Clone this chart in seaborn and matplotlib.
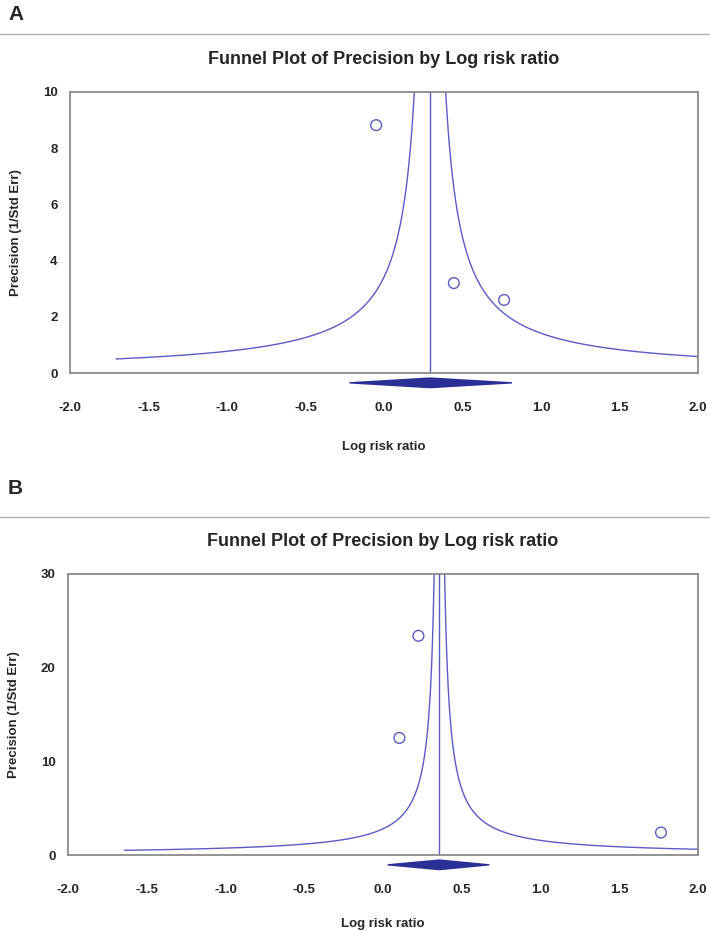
import numpy as np
import pandas as pd
import matplotlib
matplotlib.use("Agg")
import matplotlib.pyplot as plt
import matplotlib.transforms as mtransforms
from matplotlib.lines import Line2D
import seaborn as sns

# ---- data ----
panel_labels = ["A", "B"]
title = "Funnel Plot of Precision by Log risk ratio"
xlabel = "Log risk ratio"
ylabel = "Precision (1/Std Err)"

a_logrr = [-0.05, 0.445, 0.765]
a_precision = [8.82, 3.2, 2.6]
a_center = 0.293
a_ci = [-0.22, 0.815]
a_ymax = 10
a_yticks = [0, 2, 4, 6, 8, 10]

b_logrr = [0.225, 0.104, 1.765]
b_precision = [23.4, 12.5, 2.4]
b_center = 0.358
b_ci = [0.03, 0.675]
b_ymax = 30
b_yticks = [0, 10, 20, 30]

xticks = [-2.0, -1.5, -1.0, -0.5, 0.0, 0.5, 1.0, 1.5, 2.0]

sns.set_theme(style="white")
plt.rcParams["font.family"] = ["Liberation Sans", "DejaVu Sans"]

W, H = 710, 931
fig = plt.figure(figsize=(W / 100, H / 100), dpi=100)

LINE = "#5b5bc6"
DIAMOND = "#2a2f96"
SPINE = "#8a8a8a"

def px_axes(left, top, right, bottom):
    return fig.add_axes([left / W, 1 - bottom / H, (right - left) / W, (bottom - top) / H])

def draw_panel(ax, xs, ys, center, ci, ymax, yticks, xlabelpad):
    pts = pd.DataFrame({"x": xs, "y": ys})
    prec = np.geomspace(0.5, 2000, 800)
    left = pd.DataFrame({"x": center - 1.0 / prec, "y": prec})
    right = pd.DataFrame({"x": center + 1.0 / prec, "y": prec})
    sns.lineplot(data=left, x="x", y="y", sort=False, color=LINE, lw=1.0, ax=ax)
    sns.lineplot(data=right, x="x", y="y", sort=False, color=LINE, lw=1.0, ax=ax)
    ax.axvline(center, color=LINE, lw=1.0)
    sns.scatterplot(data=pts, x="x", y="y", marker="o", s=60, facecolors="none",
                    edgecolor=LINE, linewidth=1.0, ax=ax, zorder=5)
    ax.set_xlim(-2.0, 2.0)
    ax.set_ylim(0, ymax)
    # summary diamond below axis
    trans = mtransforms.blended_transform_factory(ax.transData, ax.transAxes)
    yc, hh = -0.035, 0.017
    dx = [ci[0], center, ci[1], center]
    dy = [yc, yc + hh, yc, yc - hh]
    ax.fill(dx, dy, color=DIAMOND, transform=trans, clip_on=False, zorder=6)
    ax.set_xticks(xticks)
    ax.set_xticklabels([f"{t:.1f}" for t in xticks])
    ax.set_yticks(yticks)
    ax.set_yticklabels([str(t) for t in yticks])
    ax.tick_params(axis="x", direction="inout", length=6, width=1.0, color="#555555",
                   pad=18, labelsize=9.5)
    ax.tick_params(axis="y", direction="out", length=3, width=1.0, color="#555555",
                   pad=6, labelsize=9.5)
    for lab in ax.get_xticklabels() + ax.get_yticklabels():
        lab.set_fontweight("bold")
    for sp in ax.spines.values():
        sp.set_visible(True)
        sp.set_color(SPINE)
        sp.set_linewidth(1.3)
    ax.set_xlabel(xlabel, fontsize=9.5, fontweight="bold", labelpad=xlabelpad)
    ax.set_ylabel(ylabel, fontsize=9.5, fontweight="bold", labelpad=15)
    ax.set_title(title, fontsize=13, fontweight="bold", pad=20)

axA = px_axes(70, 92, 698, 373)
draw_panel(axA, a_logrr, a_precision, a_center, a_ci, a_ymax, a_yticks, 19)
axB = px_axes(68, 574, 698, 855)
draw_panel(axB, b_logrr, b_precision, b_center, b_ci, b_ymax, b_yticks, 16)

# panel letters and separators
fig.text(8 / W, 1 - 14 / H, panel_labels[0], fontsize=15, fontweight="bold", va="center", ha="left")
fig.text(8 / W, 1 - 488 / H, panel_labels[1], fontsize=15, fontweight="bold", va="center", ha="left")
for ysep in (34, 517):
    fig.add_artist(Line2D([0, 1], [1 - ysep / H, 1 - ysep / H], color="#b0b0b0", lw=1.0))

fig.savefig("out.png", dpi=100)
